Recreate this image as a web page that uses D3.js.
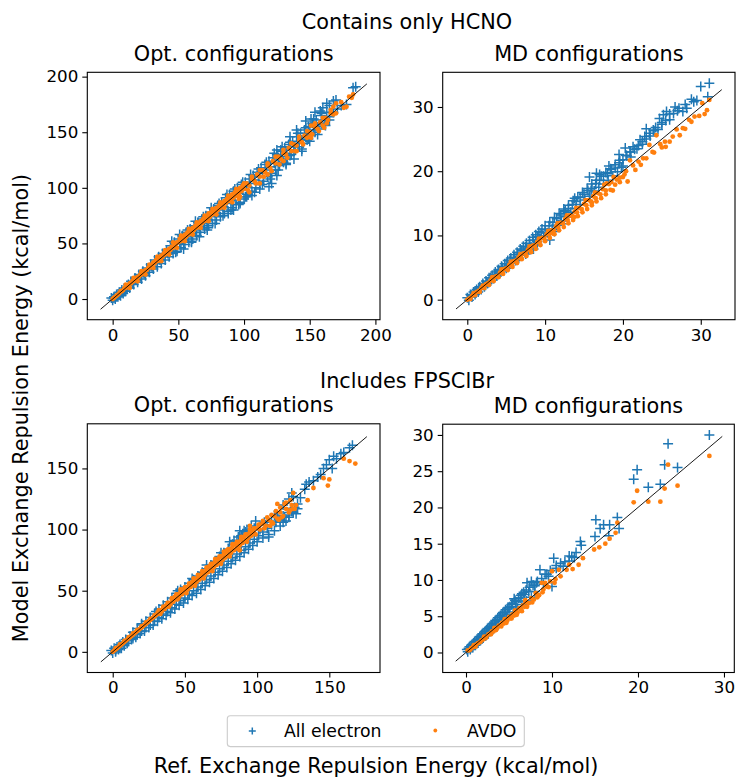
<!DOCTYPE html>
<html>
<head>
<meta charset="utf-8">
<script src="https://cdn.jsdelivr.net/npm/d3@7"></script>
<style>
  body { margin: 0; background: #fff; }
  svg { font-family: "DejaVu Sans", sans-serif; }
</style>
</head>
<body>
<div id="chart"></div>
<script>
// ---- data ----
const seriesNames = ["All electron", "AVDO"];
const rowTitles = ["Contains only HCNO", "Includes FPSClBr"];
const colTitles = ["Opt. configurations", "MD configurations"];

// axis limits [x0, x1, y0, y1] and tick values
const optHcnoLim = [-19.3, 203.5, -18.6, 203.9];
const mdHcnoLim = [-3.16, 34.4, -3.12, 35.4];
const optFpsLim = [-17.6, 185.1, -16.9, 186.5];
const mdFpsLim = [-2.71, 31.2, -2.76, 31.48];
const optHcnoTicksX = [0, 50, 100, 150, 200];
const optHcnoTicksY = [0, 50, 100, 150, 200];
const mdHcnoTicks = [0, 10, 20, 30];
const optFpsTicksX = [0, 50, 100, 150];
const optFpsTicksY = [0, 50, 100, 150];
const mdFpsTicksX = [0, 10, 20, 30];
const mdFpsTicksY = [0, 5, 10, 15, 20, 25, 30];

// y = x reference line ends
const optHcnoDiag = [-9.2, 193.5];
const mdHcnoDiag = [-1.45, 32.7];
const optFpsDiag = [-8.2, 176];
const mdFpsDiag = [-1.2, 29.8];

const optHcnoAll = [[-1,1],[0,-1],[1,2],[2,0],[3,4],[4,2],[5,6],[6,3],[7,8],[8,5],[9,10],[10,7],[12,13],[13,10],[14,16],[16,13],[17,19],[19,15],[20,22],[22,18],[23,25],[25,21],[26,28],[28,24],[29,31],[31,27],[32,35],[34,29],[35,38],[37,32],[38,41],[40,35],[41,44],[43,38],[44,48],[46,41],[47,51],[49,43],[50,54],[52,46],[53,57],[55,49],[56,60],[58,51],[59,63],[61,54],[62,66],[64,57],[65,69],[67,60],[68,72],[70,63],[71,75],[73,66],[74,78],[76,68],[77,81],[79,71],[80,84],[82,74],[83,87],[85,77],[86,91],[88,79],[89,94],[91,82],[92,97],[94,85],[95,100],[97,87],[98,103],[100,90],[101,105],[103,94],[104,108],[106,97],[107,111],[109,100],[110,114],[112,103],[113,118],[115,106],[116,121],[118,110],[119,124],[121,113],[122,127],[124,116],[125,130],[127,120],[128,133],[130,123],[131,136],[133,126],[134,139],[136,130],[137,142],[139,134],[140,146],[142,137],[143,149],[145,140],[146,152],[148,143],[149,155],[151,147],[152,158],[154,150],[155,161],[157,153],[159,165],[161,157],[163,168],[165,161],[183,190],[185,191],[178,175],[170,179],[163,176],[165,174],[158,169],[154,168],[151,162],[147,160],[149,144],[144,135],[138,134],[135,129],[135,146],[140,152],[125,134],[128,134],[125,111],[119,101],[106,93],[101,92],[97,86],[92,80],[121,104],[112,99],[132,122],[168,178],[160,172],[88,77],[72,62],[60,52],
    [45,52],[48,42],[51,58],[54,45],[57,62],[60,51],[63,70],[66,56],[69,74],[72,64],[75,82],[78,68],[81,86],[84,75],[87,94],[90,80],[93,99],[96,85],[99,105],[102,92],[105,112],[108,96],[111,117],[114,103],[117,123],[120,108],[123,131],[126,116],[129,137],[132,121],[135,141],[138,126],[141,149],[144,133],[147,154],[150,142],[153,162],[156,148],[159,167],[162,156],
    [1,1],[3,2],[5,4],[7,6],[9,8],[11,10],[15,14],[18,17],[21,20],[24,23],[27,26],[30,29],[33,32],[36,35],[39,38],[42,41],[45,44],[48,47],[51,50],[54,53],[57,56],[60,59],[63,62],[66,65],[69,68],[72,71],[75,74],[78,77],[81,80],[84,83],[87,86],[90,89],[93,92],[96,95],[99,98],[102,101],[105,104],[108,107],[111,110],[114,113],[117,116],[120,119],[123,122],[126,125],[129,128],[132,131],[135,134],[138,137],[141,140],[144,143],[147,146],[150,149],[153,152],[156,155],[159,158],[162,161],[165,164],[168,168],[171,171],[174,174]];
const optHcnoAvdo = [[0,0],[1,1],[2,2],[3,3],[4,4],[5,5],[6,7],[7,7],[8,8],[9,10],[10,10],[11,12],[12,12],[13,14],[14,14],[15,16],[16,16],[17,18],[18,18],[19,20],[20,20],[21,22],[22,22],[23,24],[24,24],[25,26],[26,26],[27,28],[28,28],[29,30],[30,30],[31,33],[32,32],[33,35],[34,34],[35,37],[36,36],[37,39],[38,38],[39,41],[40,40],[41,43],[42,42],[43,45],[44,44],[45,47],[46,46],[47,50],[48,49],[49,51],[50,51],[51,54],[52,52],[53,56],[54,54],[55,58],[56,56],[57,60],[58,58],[59,62],[60,60],[61,64],[62,62],[63,66],[64,64],[65,68],[66,66],[67,70],[68,68],[69,72],[70,70],[71,74],[72,72],[73,77],[74,74],[75,78],[76,76],[77,80],[78,78],[79,82],[80,80],[81,84],[82,82],[83,86],[84,84],[85,88],[86,86],[87,90],[88,88],[89,92],[90,89],[91,94],[92,91],[93,96],[94,93],[95,98],[96,95],[97,100],[98,97],[99,102],[100,99],[102,104],[104,102],[106,108],[108,106],[110,112],[112,110],[114,116],[116,114],[118,120],[120,118],[122,124],[124,122],[126,128],[128,126],[130,131],[132,130],[134,136],[136,133],[138,139],[140,138],[142,143],[144,141],[146,147],[148,145],[150,150],[152,148],[154,155],[156,153],[158,159],[160,156],[162,163],[164,161],[166,167],[168,166],[183,184],[182,181],[178,173],[170,176],[168,173],[161,154],[151,156],[150,146],[112,104],[118,112],[130,124],[140,133],[104,96],[96,90],[180,182],
    [10,13],[13,10],[16,19],[19,16],[22,25],[25,22],[28,31],[31,28],[34,38],[37,34],[40,44],[43,40],[46,51],[49,46],[52,57],[55,52],[58,63],[61,58],[64,69],[67,64],[70,75],[73,70],[76,81],[79,76],[82,87],[85,82],[88,93],[91,87],[94,99],[97,92],[100,104],[103,98],[106,110],[109,104],[112,116],[115,110],[118,122],[121,115],[124,128],[127,121],[130,134],[133,127],[136,140],[139,133],[142,146],[145,139],[148,151],[151,145],[154,158],[157,151],[160,163],[163,158],[166,170],[170,167],[174,177],[176,172]];

const mdHcnoAll = [[0,0.3],[0.2,-0.1],[0.4,0.8],[0.6,0.4],[0.8,1.2],[1,0.8],[1.2,1.6],[1.4,1.2],[1.6,2.0],[1.8,1.6],[2,2.5],[2.2,2.0],[2.4,2.9],[2.6,2.5],[2.8,3.4],[3,2.9],[3.2,3.8],[3.4,3.3],[3.6,4.3],[3.8,3.7],[4,4.7],[4.2,4.1],[4.4,5.2],[4.6,4.5],[4.8,5.6],[5,4.9],[5.2,6.1],[5.4,5.3],[5.6,6.5],[5.8,5.7],[6,7.0],[6.2,6.1],[6.4,7.4],[6.6,6.5],[6.8,7.9],[7,6.9],[7.2,8.3],[7.4,7.4],[7.6,8.8],[7.8,7.8],[8,9.2],[8.2,8.2],[8.4,9.7],[8.6,8.6],[8.8,10.1],[9,9.0],[9.2,10.6],[9.4,9.4],[9.6,11.0],[9.8,9.9],[10,11.5],[10.3,10.4],[10.6,12.1],[10.9,11.0],[11.2,12.8],[11.5,11.6],[11.8,13.4],[12.1,12.3],[12.4,14.1],[12.7,12.9],[13,14.7],[13.3,13.6],[13.6,15.4],[13.9,14.2],[14.2,16.0],[14.5,14.8],[14.8,16.7],[15.1,15.5],[15.4,17.3],[15.7,16.1],[16,18.0],[16.3,16.9],[16.6,18.6],[16.9,17.5],[17.2,19.2],[17.5,18.0],[17.8,19.8],[18.1,18.6],[18.4,20.4],[18.7,19.3],[19,21.0],[19.3,19.9],[19.6,21.7],[20,20.8],[20.4,22.5],[20.9,23.0],[21.3,23.8],[21.8,23.5],[22.2,24.9],[22.8,25.4],[23.4,25.9],[23.9,26.4],[24.7,28.2],[25.2,28.8],[25.6,29.3],[26,28],[26.7,30],[27.7,29.3],[28.2,29.8],[29.1,30.8],[30,33.2],[31.1,33.7],[30.9,31.6],[24.2,26.8],[22.5,24.2],[21.0,22.2],[19.8,20.6],[17.0,19.5],[18.2,20.8],[15.9,17.0],[10.6,9.3],[8.5,7.9],[12.6,13.9],[13.8,15.8],[16.6,19.7],[15.7,19.1],[19.5,22.6],[20.3,23.6],[23.0,26.6],[25.0,27.3],[27.2,29.8],
    [0.5,0.7],[1.0,1.3],[1.5,1.8],[2.0,2.3],[2.5,2.8],[3.0,3.4],[3.5,3.9],[4.0,4.5],[4.5,5.0],[5.0,5.6],[5.5,6.1],[6.0,6.6],[6.5,7.1],[7.0,7.7],[7.5,8.2],[8.0,8.7],[8.5,9.3],[9.0,9.8],[9.5,10.4],[10.0,10.9],[10.5,11.5],[11.0,12.0],[11.5,12.6],[12.0,13.2],[12.5,13.7],[13.0,14.2],[13.5,14.8],[14.0,15.3],[14.5,15.9],[15.0,16.4],[15.5,17.0],[16.0,17.3],[16.5,18.1],[17.0,18.6],[17.5,19.2],[18.0,19.6],[18.5,20.3],[19.0,20.5],[19.5,21.3],[20.0,21.8],[20.5,22.4],[21.0,23.0],[21.5,23.4],[22.0,24.0],[22.5,24.6],[23.0,25.0],[23.5,25.5],[24.0,26.3],[24.5,26.5],[25.0,27.6],[25.5,27.9],[26.0,28.9],[26.5,29.0],[27.0,29.4],[28.0,30.4],[28.8,31.2],[29.5,31.0],[11.2,10.6],[12.4,11.8],[13.5,12.9],[9.0,8.5],[7.5,7.1]];
const mdHcnoAvdo = [[0,0],[0.3,0.2],[0.6,0.6],[0.9,0.8],[1.2,1.2],[1.5,1.4],[1.8,1.8],[2.1,2.0],[2.4,2.4],[2.7,2.6],[3,3.0],[3.3,3.2],[3.6,3.6],[3.9,3.7],[4.2,4.2],[4.5,4.3],[4.8,4.8],[5.1,4.9],[5.4,5.4],[5.7,5.5],[6,6.0],[6.3,6.1],[6.6,6.6],[6.9,6.7],[7.2,7.2],[7.5,7.3],[7.8,7.8],[8.1,7.9],[8.4,8.4],[8.7,8.5],[9,9.0],[9.3,9.0],[9.6,9.6],[9.9,9.6],[10.2,10.2],[10.5,10.2],[10.8,10.8],[11.1,10.8],[11.4,11.4],[11.7,11.3],[12,12.0],[12.3,11.9],[12.6,12.6],[12.9,12.4],[13.2,13.1],[13.5,13.0],[13.8,13.7],[14.1,13.6],[14.4,14.3],[14.7,14.1],[15,14.9],[15.3,14.7],[15.6,15.5],[15.9,15.3],[16.2,16.1],[16.5,15.8],[16.8,16.6],[17.1,16.4],[17.4,17.2],[17.8,17.0],[18.2,18.0],[18.7,17.0],[17.9,18.1],[19.2,18.7],[20,19.1],[20.6,18.4],[20.9,21.7],[20.4,20.0],[21.3,20.9],[22.0,21.5],[22.6,22.0],[23.4,24.1],[24.3,25.6],[23.8,23.0],[25.4,24.6],[25.5,23.8],[26.4,25.4],[27.7,26.7],[28.8,27.7],[28.5,28.0],[29.2,28.5],[30.8,29.5],[31.1,31.1],[30.2,30.6],[26.9,26.5],[24.8,24.2],[19.6,19.0],[18.5,18.3],[13.8,12.9],[11.0,10.3],[16.0,15.1],
    [0.4,0.1],[1.0,0.7],[1.6,1.2],[2.2,1.8],[2.8,2.3],[3.4,2.9],[4.0,3.5],[4.6,4.0],[5.2,4.6],[5.8,5.1],[6.4,5.7],[7.0,6.3],[7.6,6.8],[8.2,7.4],[8.8,7.9],[9.4,8.5],[10.0,9.1],[10.6,9.6],[11.2,10.2],[11.8,10.8],[12.4,11.3],[13.0,11.9],[13.6,12.4],[14.2,13.0],[14.8,13.6],[15.4,14.1],[16.0,14.7],[16.6,15.3],[17.2,15.8],[17.8,16.4],[18.4,17.1],[19.0,17.9],[19.6,18.3],[20.2,19.5],[21.6,20.2],[22.3,21.0],[23.0,22.0],[24.0,22.9],[25.0,23.7],[26.0,24.6],[27.3,25.6],[28.0,26.6],[29.8,28.6],[30.5,28.9],[0.8,1.0],[2.0,2.2],[3.2,3.5],[4.4,4.7],[5.6,5.9],[6.8,7.1],[8.0,8.3],[9.2,9.5],[10.4,10.7],[11.6,11.9],[12.8,13.1],[14.0,14.3],[15.2,15.5],[16.4,16.7],[17.6,17.9],[18.8,19.1]];

const optFpsAll = [[-1,1],[0,-1],[1,3],[2,0],[3,4],[4,2],[5,6],[6,3],[7,8],[8,5],[9,10],[10,7],[12,13],[13,10],[14,16],[16,12],[17,19],[19,15],[20,22],[22,17],[23,25],[25,20],[26,28],[28,22],[29,31],[31,25],[32,35],[34,27],[35,38],[37,30],[38,41],[40,32],[41,44],[43,35],[44,48],[46,38],[47,51],[49,40],[50,53],[52,43],[53,56],[55,46],[56,59],[58,48],[59,62],[61,51],[62,65],[64,54],[65,68],[67,57],[68,71],[70,60],[71,74],[73,63],[74,78],[76,66],[77,81],[79,69],[80,84],[82,72],[83,88],[85,75],[86,91],[88,78],[89,95],[91,81],[92,98],[94,84],[95,100],[97,87],[98,101],[100,90],[102,100],[104,93],[106,104],[108,96],[110,107],[112,99],[114,110],[116,103],[118,111],[120,107],[122,114],[124,115],[126,118],[127,113],[122,110],[118,106],[108,94],[99,107],[91,99],[88,99],[81,90],[124,130],[136,139],[139,140],[144,145],[150,157],[153,160],[164,167],[166,169],[158,162],[146,150],[134,137],[112,112],[105,106],[130,126],
    [2,1],[5,3],[8,6],[11,9],[14,11],[17,14],[20,17],[23,20],[26,22],[29,25],[32,28],[35,31],[38,33],[41,36],[44,39],[47,42],[50,44],[53,47],[56,50],[59,53],[62,56],[65,59],[68,62],[71,65],[74,68],[77,71],[80,74],[83,77],[86,80],[89,83],[92,86],[95,89],[98,92],[101,95],[104,98],[107,101],[110,104],[113,106],[116,108],[119,110],[122,112],[125,114],[128,117],[84,91],[87,94],[90,96],[93,100],[96,103],[45,50],[55,60],[65,71],[75,81],[30,33],[20,23],[125,127],[122,125],[118,120],[128,121],[133,133],[142,143],[148,153],[155,158],[160,163],[152,150]];
const optFpsAvdo = [[0,0],[1,1],[2,2],[3,3],[4,4],[5,5],[6,6],[7,7],[8,8],[9,9],[10,10],[11,11],[12,12],[13,13],[14,14],[15,15],[16,16],[17,17],[18,18],[19,19],[20,20],[21,21],[22,22],[23,23],[24,24],[25,25],[26,26],[27,27],[28,28],[29,29],[30,30],[31,32],[32,31],[33,34],[34,33],[35,36],[36,35],[37,38],[38,37],[39,40],[40,39],[41,43],[42,41],[43,45],[44,43],[45,47],[46,45],[47,49],[48,47],[49,51],[50,49],[51,53],[52,51],[53,55],[54,53],[55,57],[56,55],[57,59],[58,57],[59,61],[60,59],[61,63],[62,61],[63,65],[64,63],[65,67],[66,65],[67,70],[68,67],[69,72],[70,69],[71,74],[72,71],[73,76],[74,73],[75,78],[76,75],[77,80],[78,77],[79,82],[80,79],[81,84],[82,81],[83,86],[84,83],[85,88],[86,85],[87,90],[88,87],[89,92],[90,89],[91,94],[92,91],[93,96],[94,93],[95,98],[96,95],[97,99],[98,97],[100,101],[102,100],[104,105],[106,103],[108,108],[110,106],[112,111],[114,109],[116,114],[118,111],[120,117],[122,114],[124,120],[126,117],[88,83],[79,83],[95,103],[102,104],[114,121],[120,122],[125,130],[125,117],[135,124],[139,134],[146,142],[149,136],[150,141],[160,158],[164,156],[168,154],
    [2,3],[5,6],[8,9],[11,12],[14,15],[17,18],[20,21],[23,24],[26,27],[29,30],[32,34],[35,37],[38,40],[41,44],[44,47],[47,51],[50,53],[53,56],[56,60],[59,63],[62,66],[65,69],[68,72],[71,76],[74,78],[77,82],[80,84],[83,88],[86,90],[89,94],[92,96],[95,100],[98,101],[101,104],[104,107],[107,110],[110,112],[113,115],[116,118],[119,121],[123,124],[33,31],[39,37],[45,43],[51,48],[57,54],[63,60],[69,66],[75,72],[81,78],[87,84],[93,90],[99,96],[105,101],[111,105],[117,110],[123,116],[127,120],[109,103],[115,108]];

const mdFpsAll = [[0.1,0.4],[0.2,0.1],[0.4,0.8],[0.5,0.4],[0.7,1.1],[0.8,0.7],[1.0,1.5],[1.1,1.0],[1.3,1.8],[1.4,1.3],[1.6,2.2],[1.7,1.7],[1.9,2.6],[2.0,2.0],[2.2,2.9],[2.3,2.3],[2.5,3.3],[2.6,2.6],[2.8,3.6],[2.9,3.0],[3.1,4.0],[3.2,3.3],[3.4,4.4],[3.5,3.6],[3.7,4.8],[3.8,3.9],[4.0,5.1],[4.1,4.3],[4.3,5.5],[4.4,4.6],[4.6,5.9],[4.7,4.9],[4.9,6.2],[5.0,5.2],[5.3,6.6],[5.5,5.6],[5.8,7.0],[6.0,6.1],[6.3,7.5],[6.5,6.6],[6.8,8.0],[7.0,7.1],[7.3,8.4],[7.6,7.6],[7.1,9.6],[7.6,9.8],[8.0,9.2],[8.6,11.4],[8.3,9.8],[9.0,9.4],[9.4,10.8],[10.2,13.0],[10,9.1],[10.5,11.6],[11.3,11.9],[11.0,12.3],[12.3,13.2],[12.0,12.6],[13.3,15.3],[13.4,14.8],[12.8,13.8],[15,16],[15.1,18.3],[15.6,17.1],[16,17.6],[16.6,16.1],[16.7,17.6],[17.6,18.6],[17.8,17.1],[19.5,23.9],[19.9,25.2],[21.2,22.8],[22.6,23.2],[23.1,25.9],[23.5,28.8],[24.6,25.5],[28.3,30.0],[6.5,8.1],[5.6,7.4],[9.6,10.5],
    [0.3,0.6],[0.6,0.9],[0.9,1.3],[1.2,1.6],[1.5,2.0],[1.8,2.4],[2.1,2.7],[2.4,3.1],[2.7,3.4],[3.0,3.8],[3.3,4.2],[3.6,4.5],[3.9,4.9],[4.2,5.3],[4.5,5.6],[4.8,6.0],[5.1,6.3],[5.4,6.8],[5.7,7.2],[6.1,7.5],[6.4,7.9],[6.7,8.3],[7.0,8.6],[7.4,9.0],[7.8,9.3],[8.2,9.6],[8.8,10.2],[9.2,10.8],[9.8,11.3],[10.5,12.0],[11.5,12.5],[12.0,13.3],[12.6,13.1],[8.0,8.4],[5.8,6.3],[3.0,3.2]];
const mdFpsAvdo = [[0.2,0.3],[0.4,0.3],[0.6,0.6],[0.8,0.7],[1.0,0.9],[1.2,1.1],[1.4,1.3],[1.6,1.4],[1.8,1.7],[2.0,1.8],[2.2,2.1],[2.4,2.2],[2.6,2.5],[2.8,2.6],[3.0,2.9],[3.2,2.9],[3.4,3.3],[3.6,3.3],[3.8,3.7],[4.0,3.7],[4.2,4.1],[4.4,4.0],[4.6,4.5],[4.8,4.4],[5.0,4.9],[5.2,4.7],[5.4,5.3],[5.6,5.1],[5.8,5.7],[6.0,5.5],[6.2,6.1],[6.4,5.9],[6.6,6.5],[6.8,6.3],[7.0,6.9],[7.3,6.8],[7.6,7.5],[7.9,7.3],[8.2,8.1],[8.5,7.9],[8.8,9.6],[9.0,8.7],[9.4,9.1],[9.8,9.8],[10,11.2],[10.4,10.1],[11,10.5],[11.7,11.4],[12.4,11.5],[13.1,12.1],[13.6,13.0],[14.9,14.2],[15.5,14.5],[16.2,15.0],[16.7,15.7],[17.4,16.5],[17.6,17.9],[19.5,20.7],[19.9,22.3],[21.2,20.8],[22.6,20.8],[23.1,22.6],[24.6,23.0],[23.5,25.9],[28.3,27.1],[6.9,7.2],[9.2,9.6],[10.8,11.4],[12.0,12.1],
    [0.5,0.4],[1.1,0.8],[1.7,1.5],[2.3,2.0],[2.9,2.5],[3.5,3.1],[4.1,3.6],[4.7,4.1],[5.3,4.7],[5.9,5.2],[6.5,5.7],[7.1,6.3],[7.7,6.9],[8.3,7.6],[8.9,8.3],[9.6,9.0],[10.3,9.6],[0.9,1.0],[2.1,2.2],[3.3,3.4],[4.5,4.6],[5.7,5.8],[6.9,7.0],[8.1,8.2],[9.3,9.3]];

// ---- layout ----
const width = 737, height = 780;
const blue = "#1f77b4", orange = "#ff7f0e";
const tickFont = 16.7, titleFont = 20.8;

const panels = [
    { box: [87.3, 72.3, 380, 319.7], lim: optHcnoLim, tx: optHcnoTicksX, ty: optHcnoTicksY, diag: optHcnoDiag, all: optHcnoAll, avdo: optHcnoAvdo, title: colTitles[0] },
    { box: [442.7, 72.3, 735, 319.7], lim: mdHcnoLim, tx: mdHcnoTicks, ty: mdHcnoTicks, diag: mdHcnoDiag, all: mdHcnoAll, avdo: mdHcnoAvdo, title: colTitles[1] },
    { box: [87.3, 423.8, 380, 672.5], lim: optFpsLim, tx: optFpsTicksX, ty: optFpsTicksY, diag: optFpsDiag, all: optFpsAll, avdo: optFpsAvdo, title: colTitles[0] },
    { box: [442.7, 424.2, 734.3, 672.5], lim: mdFpsLim, tx: mdFpsTicksX, ty: mdFpsTicksY, diag: mdFpsDiag, all: mdFpsAll, avdo: mdFpsAvdo, title: colTitles[1] }
];

const svg = d3.select("#chart").append("svg")
    .attr("width", width)
    .attr("height", height);

svg.append("rect").attr("width", width).attr("height", height).attr("fill", "#fff");

const plusPath = s => `M${-s},0H${s}M0,${-s}V${s}`;

panels.forEach((p, i) => {
    const [x0, y0, x1, y1] = p.box;
    const x = d3.scaleLinear().domain([p.lim[0], p.lim[1]]).range([x0, x1]);
    const y = d3.scaleLinear().domain([p.lim[2], p.lim[3]]).range([y1, y0]);

    const clipId = "clip" + i;
    svg.append("clipPath").attr("id", clipId)
        .append("rect")
        .attr("x", x0).attr("y", y0)
        .attr("width", x1 - x0).attr("height", y1 - y0);

    const g = svg.append("g").attr("clip-path", `url(#${clipId})`);

    // all electron (plus markers)
    g.selectAll(".all")
        .data(p.all)
        .enter().append("path")
        .attr("class", "all")
        .attr("transform", d => `translate(${x(d[0])},${y(d[1])})`)
        .attr("d", plusPath(5))
        .attr("stroke", blue)
        .attr("stroke-width", 1.5)
        .attr("fill", "none");

    // AVDO (dots)
    g.selectAll(".avdo")
        .data(p.avdo)
        .enter().append("circle")
        .attr("class", "avdo")
        .attr("cx", d => x(d[0]))
        .attr("cy", d => y(d[1]))
        .attr("r", 2.4)
        .attr("fill", orange);

    // y = x
    g.append("line")
        .attr("x1", x(p.diag[0])).attr("y1", y(p.diag[0]))
        .attr("x2", x(p.diag[1])).attr("y2", y(p.diag[1]))
        .attr("stroke", "#000")
        .attr("stroke-width", 0.9);

    // axes
    const xAxis = svg.append("g")
        .attr("transform", `translate(0,${y1})`)
        .call(d3.axisBottom(x).tickValues(p.tx).tickSizeOuter(0).tickSize(5).tickPadding(4));
    const yAxis = svg.append("g")
        .attr("transform", `translate(${x0},0)`)
        .call(d3.axisLeft(y).tickValues(p.ty).tickSizeOuter(0).tickSize(5).tickPadding(4));

    [xAxis, yAxis].forEach(a => {
        a.select(".domain").remove();
        a.selectAll(".tick line").attr("stroke", "#000").attr("stroke-width", 1.1);
        a.selectAll(".tick text")
            .attr("fill", "#000")
            .style("font-size", tickFont + "px")
            .style("font-family", "DejaVu Sans");
    });

    svg.append("rect")
        .attr("x", x0).attr("y", y0)
        .attr("width", x1 - x0).attr("height", y1 - y0)
        .attr("fill", "none")
        .attr("stroke", "#000")
        .attr("stroke-width", 1.1);

    svg.append("text")
        .attr("x", (x0 + x1) / 2)
        .attr("y", y0 - 11.5)
        .attr("text-anchor", "middle")
        .style("font-size", titleFont + "px")
        .text(p.title);
});

// row titles
svg.append("text").attr("x", 407).attr("y", 28.5)
    .attr("text-anchor", "middle").style("font-size", titleFont + "px")
    .text(rowTitles[0]);
svg.append("text").attr("x", 407).attr("y", 387.5)
    .attr("text-anchor", "middle").style("font-size", titleFont + "px")
    .text(rowTitles[1]);

// shared axis labels
svg.append("text")
    .attr("transform", "translate(28,408) rotate(-90)")
    .attr("text-anchor", "middle")
    .style("font-size", titleFont + "px")
    .text("Model Exchange Repulsion Energy (kcal/mol)");
svg.append("text")
    .attr("x", 376).attr("y", 772.5)
    .attr("text-anchor", "middle")
    .style("font-size", titleFont + "px")
    .text("Ref. Exchange Repulsion Energy (kcal/mol)");

// legend
const legend = svg.append("g");
legend.append("rect")
    .attr("x", 227.3).attr("y", 715.8)
    .attr("width", 297).attr("height", 30.8)
    .attr("rx", 3)
    .attr("fill", "#fff")
    .attr("stroke", "#ccc")
    .attr("stroke-width", 1.1);
legend.append("path")
    .attr("transform", "translate(252.3,731)")
    .attr("d", plusPath(3.5))
    .attr("stroke", blue)
    .attr("stroke-width", 1.5);
legend.append("text")
    .attr("x", 284).attr("y", 736.5)
    .style("font-size", "17.3px")
    .text(seriesNames[0]);
legend.append("circle")
    .attr("cx", 435.3).attr("cy", 730.5)
    .attr("r", 1.9)
    .attr("fill", orange);
legend.append("text")
    .attr("x", 467).attr("y", 736.5)
    .style("font-size", "17.3px")
    .text(seriesNames[1]);
</script>
</body>
</html>
